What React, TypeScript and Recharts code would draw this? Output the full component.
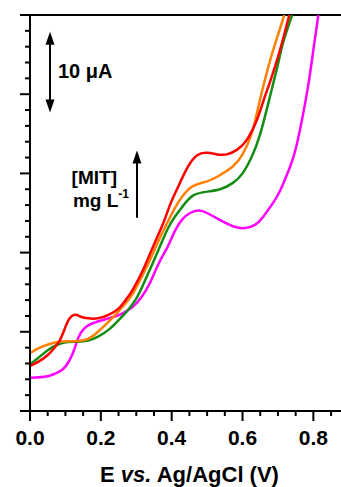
import React from 'react';
import { LineChart, Line, XAxis, YAxis, ReferenceLine } from 'recharts';

// potential (V vs Ag/AgCl) and current (µA, shifted) for each curve
const magentaE = [0, 0.05, 0.08, 0.1, 0.12, 0.136, 0.155, 0.185, 0.23, 0.26, 0.291, 0.315, 0.339, 0.363, 0.387, 0.41, 0.43, 0.452, 0.476, 0.5, 0.537, 0.575, 0.607, 0.635, 0.658, 0.685, 0.706, 0.734, 0.754, 0.782, 0.8, 0.814];
const magentaI = [4.2, 4.4, 4.9, 5.6, 7.2, 9.2, 10.5, 11.2, 11.8, 12.3, 13.2, 14.4, 16.2, 18.6, 20.6, 22.8, 24.2, 25.0, 25.3, 25.0, 24.1, 23.3, 23.1, 23.5, 24.5, 26.2, 27.8, 30.8, 33.8, 40.2, 45.6, 50];

const greenE = [0, 0.023, 0.051, 0.079, 0.107, 0.136, 0.164, 0.192, 0.226, 0.255, 0.274, 0.3, 0.319, 0.343, 0.367, 0.39, 0.41, 0.432, 0.46, 0.5, 0.537, 0.573, 0.6, 0.625, 0.65, 0.678, 0.7, 0.715, 0.74];
const greenI = [5.9, 6.7, 7.7, 8.4, 8.7, 8.75, 8.9, 9.4, 10.4, 11.7, 12.6, 14.2, 15.9, 18.3, 20.8, 23.1, 24.6, 25.9, 27.2, 27.7, 28.0, 28.8, 30.0, 32.0, 35.0, 39.8, 43.8, 46.6, 50];

const orangeE = [0, 0.023, 0.051, 0.079, 0.107, 0.136, 0.164, 0.192, 0.22, 0.246, 0.27, 0.291, 0.315, 0.339, 0.363, 0.387, 0.41, 0.432, 0.46, 0.5, 0.537, 0.573, 0.6, 0.624, 0.64, 0.658, 0.68, 0.698, 0.718];
const orangeI = [7.3, 7.9, 8.4, 8.7, 8.8, 8.85, 9.1, 10.0, 11.2, 12.4, 13.6, 14.9, 16.9, 19.1, 21.5, 23.7, 25.7, 27.2, 28.4, 29.0, 29.8, 30.9, 32.4, 34.8, 37.5, 40.9, 44.6, 47.2, 50];

const redE = [0, 0.023, 0.051, 0.071, 0.085, 0.099, 0.112, 0.128, 0.144, 0.164, 0.192, 0.22, 0.249, 0.27, 0.291, 0.319, 0.347, 0.376, 0.395, 0.415, 0.444, 0.472, 0.5, 0.528, 0.556, 0.585, 0.613, 0.641, 0.66, 0.678, 0.706, 0.732];
const redI = [5.7, 6.2, 7.1, 8.1, 9.0, 10.5, 11.7, 12.15, 11.9, 11.7, 11.7, 12.1, 12.9, 14.0, 15.4, 17.8, 20.7, 23.7, 26.0, 28.0, 30.7, 32.3, 32.6, 32.4, 32.4, 33.0, 34.3, 36.8, 39.3, 41.6, 45.6, 50];

const xTicks = [0, 0.05, 0.1, 0.15, 0.2, 0.25, 0.3, 0.35, 0.4, 0.45, 0.5, 0.55, 0.6, 0.65, 0.7, 0.75, 0.8, 0.85];
const yTicks = [0, 2, 4, 6, 8, 10, 12, 14, 16, 18, 20, 22, 24, 26, 28, 30, 32, 34, 36, 38, 40, 42, 44, 46, 48, 50];

// scale bar (10 µA) and concentration arrow, in data units
const scaleBar = [{ x: 0.0565, y: 37.7 }, { x: 0.0565, y: 47.9 }];
const mitArrow = [{ x: 0.302, y: 24.4 }, { x: 0.302, y: 32.9 }];

const zip = (xs: number[], ys: number[]) => xs.map((x, i) => ({ x, y: ys[i] }));

const magentaData = zip(magentaE, magentaI);
const greenData = zip(greenE, greenI);
const orangeData = zip(orangeE, orangeI);
const redData = zip(redE, redI);

const FONT = '"Liberation Sans", Arial, sans-serif';

const XTick = (props: any) => {
  const { x, y, payload } = props;
  const v = payload.value;
  const major = Math.abs(v * 5 - Math.round(v * 5)) < 1e-6;
  return (
    <g>
      <line x1={x} y1={y} x2={x} y2={y + (major ? 10 : 5)} stroke="#000" strokeWidth={2} />
      {major && (
        <text x={x} y={y + 34} textAnchor="middle" fontFamily={FONT} fontWeight="bold" fontSize={21} fill="#000">
          {v.toFixed(1)}
        </text>
      )}
    </g>
  );
};

const YTick = (props: any) => {
  const { x, y, payload } = props;
  const major = payload.value % 10 === 0;
  return <line x1={x - (major ? 10 : 5)} y1={y} x2={x} y2={y} stroke="#000" strokeWidth={2} />;
};

const arrowHead = (x: number, tip: number, dir: 1 | -1) => (
  <polygon points={`${x},${tip} ${x - 4.5},${tip + dir * 13} ${x + 4.5},${tip + dir * 13}`} fill="#000" />
);

const ScaleBar = (props: any) => {
  const { x1, y1, y2 } = props;
  const top = Math.min(y1, y2);
  const bot = Math.max(y1, y2);
  return (
    <g>
      <line x1={x1} y1={top + 8} x2={x1} y2={bot - 8} stroke="#000" strokeWidth={2} />
      {arrowHead(x1, top, 1)}
      {arrowHead(x1, bot, -1)}
      <text x={x1 + 8} y={(top + bot) / 2 + 6} fontFamily={FONT} fontWeight="bold" fontSize={20} fill="#000">
        10 μA
      </text>
    </g>
  );
};

const MitArrow = (props: any) => {
  const { x1, y1, y2 } = props;
  const top = Math.min(y1, y2);
  const bot = Math.max(y1, y2);
  return (
    <g>
      <line x1={x1} y1={top + 8} x2={x1} y2={bot} stroke="#000" strokeWidth={2} />
      {arrowHead(x1, top, 1)}
      <text x={x1 - 20} y={top + 34} textAnchor="end" fontFamily={FONT} fontWeight="bold" fontSize={19} fill="#000">
        [MIT]
      </text>
      <text x={x1 - 64} y={top + 57} fontFamily={FONT} fontWeight="bold" fontSize={19} fill="#000">
        mg L
        <tspan dy={-9} fontSize={12}>-1</tspan>
      </text>
    </g>
  );
};

const XTitle = (props: any) => {
  const { viewBox } = props;
  const cx = viewBox.x + viewBox.width / 2 + 4;
  return (
    <text x={cx} y={482} textAnchor="middle" fontFamily={FONT} fontWeight="bold" fontSize={22} fill="#000">
      E <tspan fontStyle="italic">vs.</tspan> Ag/AgCl (V)
    </text>
  );
};

export default function App() {
  return (
    <div style={{ position: 'absolute', left: 0, top: 0, width: 341, height: 487, background: '#fff' }}>
      <LineChart width={341} height={487} margin={{ top: 15, right: 0, left: 0, bottom: 0 }}>
        <XAxis
          type="number"
          dataKey="x"
          domain={[0, 0.878]}
          ticks={xTicks}
          interval={0}
          allowDataOverflow
          height={76}
          tickSize={0}
          tickMargin={0}
          tickLine={false}
          axisLine={{ stroke: '#000', strokeWidth: 2 }}
          tick={<XTick />}
          label={<XTitle />}
        />
        <YAxis
          type="number"
          dataKey="y"
          domain={[0, 50]}
          ticks={yTicks}
          interval={0}
          allowDataOverflow
          width={30}
          tickSize={0}
          tickMargin={0}
          tickLine={false}
          axisLine={{ stroke: '#000', strokeWidth: 2 }}
          tick={<YTick />}
        />
        <ReferenceLine y={50} stroke="#000" strokeWidth={2} />
        <Line data={magentaData} dataKey="y" type="natural" stroke="#FF00FF" strokeWidth={2.5} dot={false} isAnimationActive={false} />
        <Line data={greenData} dataKey="y" type="natural" stroke="#138C13" strokeWidth={2.5} dot={false} isAnimationActive={false} />
        <Line data={orangeData} dataKey="y" type="natural" stroke="#FF8000" strokeWidth={2.5} dot={false} isAnimationActive={false} />
        <Line data={redData} dataKey="y" type="natural" stroke="#FF0000" strokeWidth={2.5} dot={false} isAnimationActive={false} />
        <ReferenceLine segment={scaleBar} shape={(p: any) => <ScaleBar {...p} />} />
        <ReferenceLine segment={mitArrow} shape={(p: any) => <MitArrow {...p} />} />
      </LineChart>
    </div>
  );
}
